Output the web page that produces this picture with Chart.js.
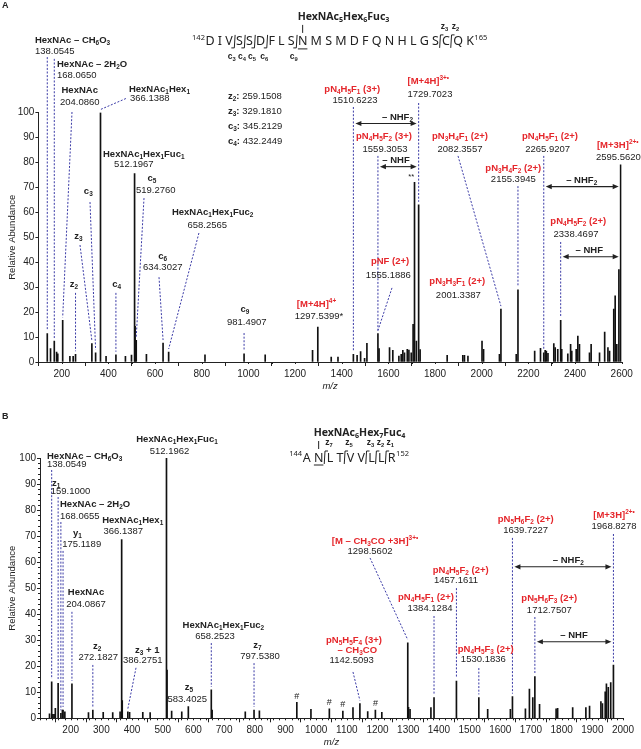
<!DOCTYPE html>
<html>
<head>
<meta charset="utf-8">
<script src="https://cdn.jsdelivr.net/npm/chart.js@4.4.1/dist/chart.umd.min.js"></script>
<style>
  body { margin: 0; background: #fff; }
  #wrap { position: relative; width: 641px; height: 749px; }
  canvas { position: absolute; left: 0; }
</style>
</head>
<body>
<div id="wrap">
  <canvas id="chartA" width="641" height="395" style="top:0;width:641px;height:395px"></canvas>
  <canvas id="chartB" width="641" height="354" style="top:395px;width:641px;height:354px"></canvas>
</div>
<script>
// ---- data: panel A (m/z, relative abundance) ----
const mzA = [138.05,152,168.07,178,183,204.09,235,249,259.15,329.18,345.21,366.14,390,432.24,473,499,512.20,514.5,519.28,563,634.30,658.26,814,981.49,1072,1275,1297.54,1355,1384,1450,1466,1481,1498,1508,1555.19,1560,1605,1619,1645,1655,1662,1669,1681,1688,1698,1706,1712,1720,1729.70,1736,1852,1919,1926,1941,2001.34,2008,2076,2082.36,2148,2155.39,2227,2252,2265.92,2272,2277,2284,2309,2315,2326,2338.47,2343,2369,2381,2386,2405,2412,2419,2462,2469,2505,2527,2541,2548,2566,2572,2579,2588,2595.56];
const intA = [11.4,5.4,8.4,4,3.3,16.7,2.3,2.3,3.1,7.4,3.7,100,2.3,2.9,2.3,2.8,75.5,14.3,8.7,3.1,7.6,4,2.9,3.3,2.9,4.7,14,2,2,3.1,2.7,4.2,1.5,7.5,11.4,5.4,5.8,4.7,2.4,3.1,4.7,3.7,5.1,4.8,3.7,15.1,72,8.4,63,5,2.7,2.7,2.7,2.4,8.4,5.1,3.1,21.2,3.1,28.9,4.4,5.5,3.7,4.7,4.4,3.5,7.4,5.8,5.1,16.7,5.1,3.3,7.1,4.4,5.1,10.4,7.1,3.7,7.1,3.7,12,5.8,4.4,21.2,26.5,7.1,37,79];

// ---- data: panel B ----
const mzB = [131,138.05,142,146,150,159.10,168.07,173,175.12,181,204.09,258,272.18,306,337,361,366.14,368,386.28,392,435,459,512.20,514,529,562,583.40,658.25,661,769,797.54,815,937,983,1043,1087,1120,1142.51,1168,1193,1214,1298.56,1301,1306,1374,1384.13,1457.16,1530.18,1559,1633,1639.72,1682,1695,1706,1712.75,1728,1782,1787,1836,1879,1891,1928,1933,1942,1946,1952,1960,1968.83];
const intB = [1.7,14,1.5,1.5,3.8,13.4,1.9,3.2,3.2,2.5,13.2,2.2,3.2,2.3,2.2,2.5,68.7,6.8,2.5,2.3,2.3,2.2,100,18.5,2.8,2.5,4.5,10.9,3.2,2.5,3.2,2.9,6.1,3.4,3.6,2.8,4.1,5.7,2.6,3.2,2.3,29,4.2,3.4,4.1,8,14.3,8,3.4,3.4,8.3,3.6,11.2,8,16,5.4,3.6,3.8,4.1,4.1,4.7,6.4,5.7,10.2,13.2,11.9,13.7,20.4];
const hashB = [937, 1043, 1087, 1193];

// ---- tick labels ----
const ticksAx = [200,400,600,800,1000,1200,1400,1600,1800,2000,2200,2400,2600];
const ticksBx = [200,300,400,500,600,700,800,900,1000,1100,1200,1300,1400,1500,1600,1700,1800,1900,2000];
const ticksY = [0,10,20,30,40,50,60,70,80,90,100];

const FONT = '"Liberation Sans", Arial, sans-serif';
const SEQFONT = '"Noto Sans", sans-serif';
const RED = '#e5262b';
const BLUE = '#3a3aa6';
const INK = '#222';

Chart.defaults.font.family = FONT;

const nm = (t, dx) => ({ parts: [{ t, b: true }], dx });
const nu = (t, dx) => ({ parts: [{ t, b: false }], dx });
const rd = (t, dx) => ({ parts: [{ t, b: true, c: RED }], dx });
const mx = (a, b) => ({ parts: [{ t: a, b: true }, { t: b, b: false }] });

// annotation layout (x in m/z, y in % abundance)
const labelsA = [
  { x: 85, y: 129.1, al: 'left', lines: [nm('HexNAc – CH_{6}O_{3}'), nu('138.0545')], lead: { at: 138.05, from: [null, 122.2] } },
  { x: 179.7, y: 119.3, al: 'left', lines: [nm('HexNAc – 2H_{2}O'), nu('168.0650')], lead: { at: 168.07, from: [null, 121.5] } },
  { x: 199, y: 109, al: 'left', lh: 12.7, lines: [nm('HexNAc'), nu('204.0860', -1.5)], lead: { at: 204.09, from: [244, 100.2] } },
  { x: 488, y: 109.3, al: 'left', lh: 9.5, lines: [nm('HexNAc_{1}Hex_{1}'), nu('366.1388', 1)], lead: { at: 366.14, from: [475, 105.6] } },
  { x: 912.6, y: 106.6, al: 'left', lh: 15, lines: [mx('z_{2}:', ' 259.1508'), mx('z_{3}:', ' 329.1810'), mx('c_{3}:', ' 345.2129'), mx('c_{4}:', ' 432.2449')] },
  { x: 376.9, y: 83.4, al: 'left', lh: 10.5, lines: [nm('HexNAc_{1}Hex_{1}Fuc_{1}'), nu('512.1967', 11)] },
  { x: 586.9, y: 73.6, lh: 11.7, lines: [nm('c_{5}'), nu('519.2760', 3.7)], lead: { at: 519.28, from: [552.6, 65.7] } },
  { x: 313.9, y: 68.3, lines: [nm('c_{3}')], lead: { at: 345.21, from: [321.2, 64.1] } },
  { x: 271, y: 50.2, lines: [nm('z_{3}')], lead: { at: 329.18, from: [278.3, 46.9] } },
  { x: 252.6, y: 31.3, lines: [nm('z_{2}')], lead: { at: 259.15, from: [null, 27.7] } },
  { x: 435.6, y: 31.3, lines: [nm('c_{4}')], lead: { at: 432.24, from: [null, 27.7] } },
  { x: 847, y: 59.8, lh: 12.3, lines: [nm('HexNAc_{1}Hex_{1}Fuc_{2}'), nu('658.2565', -5.4)], lead: { at: 658.26, from: [788, 51.7] } },
  { x: 632.7, y: 42.5, lh: 11.3, lines: [nm('c_{6}'), nu('634.3027')], lead: { at: 634.30, from: [616.9, 34] } },
  { x: 985.5, y: 21.2, lh: 13.3, lines: [nm('c_{9}'), nu('981.4907', 1.7)], lead: { at: 981.49, from: [null, 11.6] } },
  { x: 1292, y: 22.9, lh: 11.7, lines: [rd('[M+4H]^{4+}'), nu('1297.5399*', 2.5)] },
  { x: 1445.4, y: 109.3, lh: 10.7, lines: [rd('pN_{4}H_{5}F_{1} (3+)'), nu('1510.6223', 2.7)], lead: { at: 1450, from: [null, 102.2] } },
  { x: 1771, y: 112.3, lh: 12.6, lines: [rd('[M+4H]^{3+•}'), nu('1729.7023', 1.7)], lead: { at: 1729.70, from: [null, 103.8] } },
  { x: 1581.2, y: 90.3, lh: 12.3, lines: [rd('pN_{4}H_{5}F_{2} (3+)'), nu('1559.3053', 1)], lead: { at: 1555.19, from: [null, 82.6] } },
  { x: 1907, y: 90.3, lh: 12.3, lines: [rd('pN_{3}H_{4}F_{1} (2+)'), nu('2082.3557')], lead: { at: 2082.36, from: [1898.4, 82.6] } },
  { x: 2292.6, y: 90.3, lh: 12.3, lines: [rd('pN_{4}H_{5}F_{1} (2+)'), nu('2265.9207', -2.3)], lead: { at: 2265.92, from: [null, 82.6] } },
  { x: 2135.4, y: 77.6, lh: 11, lines: [rd('pN_{3}H_{4}F_{2} (2+)'), nu('2155.3945')], lead: { at: 2155.39, from: [null, 70.5] } },
  { x: 2583, y: 86.7, lh: 11.6, lines: [rd('[M+3H]^{2+•}'), nu('2595.5620', 0.6)] },
  { x: 2414, y: 56.2, lh: 12.6, lines: [rd('pN_{4}H_{5}F_{2} (2+)'), nu('2338.4697', -2.3)], lead: { at: 2338.47, from: [null, 48.1] } },
  { x: 1607, y: 40.2, lh: 13.3, lines: [rd('pNF (2+)'), nu('1555.1886', -1.7)], lead: { at: 1555.19, from: [1615.5, 29.7] } },
  { x: 1895.4, y: 32.2, lh: 13.3, lines: [rd('pN_{3}H_{3}F_{1} (2+)'), nu('2001.3387', 1)] },
  { x: 1698, y: 74, size: 7.5, lines: [nu('**')] }
];

const labelsB = [
  { x: 546.5, y: 107, lh: 11.7, lines: [nm('HexNAc_{1}Hex_{1}Fuc_{1}'), nu('512.1962', -7.5)] },
  { x: 122.8, y: 100.8, al: 'left', lh: 8.3, lines: [nm('HexNAc – CH_{6}O_{3}'), nu('138.0549')], lead: { at: 138.05, from: [null, 95.4] } },
  { x: 139.1, y: 90.3, al: 'left', lh: 8.4, lines: [nm('z_{1}'), nu('159.1000', -1.3)], lead: { at: 159.10, from: [null, 85] } },
  { x: 165.2, y: 82.2, al: 'left', lh: 12.4, lines: [nm('HexNAc – 2H_{2}O'), nu('168.0655')], lead: { at: 168.07, from: [null, 75.4] } },
  { x: 221.6, y: 71.1, lh: 10.7, lines: [nm('y_{1}'), nu('175.1189', 4.4)], lead: { at: 175.12, from: [null, 64.3] } },
  { x: 402.1, y: 75.9, lh: 10.3, lines: [nm('HexNAc_{1}Hex_{1}'), nu('366.1387', -9.4)] },
  { x: 249.9, y: 48.3, lh: 11.6, lines: [nm('HexNAc'), nu('204.0867')], lead: { at: 204.09, from: [null, 40.9] } },
  { x: 286.7, y: 27.8, lh: 11.3, lines: [nm('z_{2}'), nu('272.1827', 1)], lead: { at: 272.18, from: [null, 20.5] } },
  { x: 449.7, y: 26.2, lh: 10, lines: [nm('z_{3} + 1'), nu('386.2751', -4.6)], lead: { at: 386.28, from: [412.9, 19.4] } },
  { x: 697.4, y: 35.8, lh: 11.7, lines: [nm('HexNAc_{1}Hex_{1}Fuc_{2}'), nu('658.2523', -8.3)], lead: { at: 658.25, from: [null, 28.9] } },
  { x: 585.6, y: 11.8, lh: 11.6, lines: [nm('z_{5}'), nu('583.4025', -1.7)] },
  { x: 808.2, y: 28.2, lh: 11.7, lines: [nm('z_{7}'), nu('797.5380', 2.7)], lead: { at: 797.54, from: [null, 21.2] } },
  { x: 1191.8, y: 67.8, lh: 10, lines: [rd('[M – CH_{3}CO +3H]^{3+•}'), nu('1298.5602', -5)], lead: { at: 1298.56, from: [1175.5, 61.6] } },
  { x: 1682.9, y: 76.6, lh: 11.7, lines: [rd('pN_{5}H_{6}F_{2} (2+)'), nu('1639.7227')], lead: { at: 1639.72, from: [null, 69.3] } },
  { x: 1970.7, y: 77.8, lh: 11, lines: [rd('[M+3H]^{2+•}'), nu('1968.8278')], lead: { at: 1968.83, from: [null, 70.8] } },
  { x: 1471, y: 57, lh: 10.7, lines: [rd('pN_{4}H_{5}F_{2} (2+)'), nu('1457.1611', -4.7)], lead: { at: 1457.16, from: [null, 50] } },
  { x: 1358, y: 46.5, lh: 11, lines: [rd('pN_{4}H_{5}F_{1} (2+)'), nu('1384.1284', 4)], lead: { at: 1384.13, from: [null, 39.3] } },
  { x: 1759.8, y: 46.1, lh: 11.7, lines: [rd('pN_{5}H_{6}F_{3} (2+)'), nu('1712.7507')], lead: { at: 1712.75, from: [null, 38.9] } },
  { x: 1123.3, y: 30.1, lh: 10.3, lines: [rd('pN_{5}H_{5}F_{4} (3+)'), rd('– CH_{3}CO', 3.3), nu('1142.5093', -2.3)], lead: { at: 1142.51, from: [1120, 17.8] } },
  { x: 1552.6, y: 26.5, lh: 10, lines: [rd('pN_{4}H_{5}F_{3} (2+)'), nu('1530.1836', -2.4)], lead: { at: 1530.18, from: [null, 19.3] } }
];

const arrowsA = [
  { from: 1450, to: 1729.70, y: 95.6, t: '– NHF_{2}', tx: 1639 },
  { from: 1555.19, to: 1729.70, y: 78.3, t: '– NHF', tx: 1632.7 },
  { from: 2265.92, to: 2595.56, y: 70.3, t: '– NHF_{2}', tx: 2428.6 },
  { from: 2338.47, to: 2595.56, y: 42.2, t: '– NHF', tx: 2461 }
];
const arrowsB = [
  { from: 1639.72, to: 1968.83, y: 58.2, t: '– NHF_{2}', tx: 1821.7 },
  { from: 1712.75, to: 1968.83, y: 29.4, t: '– NHF', tx: 1840.3 }
];

const seqA = { res: 'DIVSSDFLSNMSMDFQNHLGSCQK', first: '142', last: '165', from: 835.5, to: 1949.8, y: 128.3, site: 9,
  glycan: 'HexNAc_{5}Hex_{6}Fuc_{3}',
  cuts: [{ i: 2, k: 'c', t: 'c_{3}' }, { i: 3, k: 'c', t: 'c_{4}' }, { i: 4, k: 'c', t: 'c_{5}' }, { i: 5, k: 'c', t: 'c_{6}' },
         { i: 8, k: 'c', t: 'c_{9}' }, { i: 20, k: 'z', t: 'z_{3}' }, { i: 21, k: 'z', t: 'z_{2}' }] };
const seqB = { res: 'ANLTVVLLR', first: '144', last: '152', from: 969, to: 1246.2, y: 100, site: 1,
  glycan: 'HexNAc_{6}Hex_{7}Fuc_{4}',
  cuts: [{ i: 1, k: 'z', t: 'z_{7}' }, { i: 3, k: 'z', t: 'z_{5}' }, { i: 5, k: 'z', t: 'z_{3}' }, { i: 6, k: 'z', t: 'z_{2}' }, { i: 7, k: 'z', t: 'z_{1}' }] };

// split "abc_{1}^{2+}" into normal / sub / sup pieces
function segs(str) {
  const out = [];
  const re = /([_^])\{([^}]*)\}/g;
  let last = 0, m;
  while ((m = re.exec(str))) {
    if (m.index > last) out.push({ t: str.slice(last, m.index), k: '' });
    out.push({ t: m[2], k: m[1] });
    last = re.lastIndex;
  }
  if (last < str.length) out.push({ t: str.slice(last), k: '' });
  return out;
}

function drawLine(ctx, parts, x, y, align, size, family) {
  const pieces = [];
  parts.forEach(p => segs(p.t).forEach(s => {
    const sz = s.k ? size * 0.68 : size;
    pieces.push({
      t: s.t,
      font: (p.b ? 'bold ' : '') + sz + 'px ' + (family || FONT),
      c: p.c || INK,
      dy: s.k === '_' ? size * 0.3 : s.k === '^' ? -size * 0.38 : 0
    });
  }));
  let w = 0;
  pieces.forEach(q => { ctx.font = q.font; q.w = ctx.measureText(q.t).width; w += q.w; });
  let cx = align === 'center' ? x - w / 2 : align === 'right' ? x - w : x;
  ctx.textBaseline = 'middle';
  ctx.textAlign = 'left';
  pieces.forEach(q => {
    ctx.font = q.font;
    ctx.fillStyle = q.c;
    ctx.fillText(q.t, cx, y + q.dy);
    cx += q.w;
  });
}

function seg(ctx, x0, y0, x1, y1) {
  ctx.beginPath();
  ctx.moveTo(x0, y0);
  ctx.lineTo(x1, y1);
  ctx.stroke();
}

function drawSeq(ctx, s, px, py) {
  const y = py(s.y), x0 = px(s.from), x1 = px(s.to);
  const n = s.res.length;
  ctx.font = '12.5px ' + SEQFONT;
  const w = [...s.res].map(r => ctx.measureText(r).width);
  let sum = 0;
  for (let i = 0; i < n - 1; i++) sum += (w[i] + w[i + 1]) / 2;
  const g = (x1 - x0 - sum) / (n - 1);
  const c = [x0];
  for (let i = 0; i < n - 1; i++) c.push(c[i] + (w[i] + w[i + 1]) / 2 + g);

  ctx.fillStyle = INK;
  ctx.textBaseline = 'middle';
  ctx.textAlign = 'center';
  [...s.res].forEach((r, i) => ctx.fillText(r, c[i], y));
  ctx.font = '7.5px ' + SEQFONT;
  ctx.textAlign = 'right';
  ctx.fillText(s.first, c[0] - w[0] / 2 - 0.5, y - 4);
  ctx.textAlign = 'left';
  ctx.fillText(s.last, c[n - 1] + w[n - 1] / 2 + 0.5, y - 4);

  ctx.strokeStyle = INK;
  ctx.lineWidth = 1;
  const cs = c[s.site];
  seg(ctx, cs - w[s.site] / 2, y + 7, cs + w[s.site] / 2, y + 7);
  seg(ctx, cs, y - 9, cs, y - 17);
  drawLine(ctx, [{ t: s.glycan, b: true }], cs - 5, y - 25, 'left', 10.5, SEQFONT);

  s.cuts.forEach(k => {
    const xm = ((c[k.i] + w[k.i] / 2) + (c[k.i + 1] - w[k.i + 1] / 2)) / 2;
    if (k.k === 'c') {
      seg(ctx, xm + 0.8, y - 7, xm, y + 6);
      seg(ctx, xm, y + 6, xm - 3, y + 6);
      drawLine(ctx, [{ t: k.t, b: true }], xm - 2.5, y + 15, 'center', 8.5);
    } else {
      seg(ctx, xm - 0.8, y + 6, xm, y - 7);
      seg(ctx, xm, y - 7, xm + 3, y - 7);
      drawLine(ctx, [{ t: k.t, b: true }], xm + 4, y - 15, 'center', 8.5);
    }
  });
}

function arrowHead(ctx, x, y, dir) {
  ctx.beginPath();
  ctx.moveTo(x, y);
  ctx.lineTo(x - dir * 6, y - 2.6);
  ctx.lineTo(x - dir * 6, y + 2.6);
  ctx.closePath();
  ctx.fill();
}

function annotPlugin(cfg) {
  return {
    id: 'annot',
    afterDraw(chart) {
      const ctx = chart.ctx, X = chart.scales.x, Y = chart.scales.y, area = chart.chartArea;
      const px = v => X.getPixelForValue(v);
      const py = v => Y.getPixelForValue(v);
      const peak = m => {
        let b = 0;
        cfg.mz.forEach((v, i) => { if (Math.abs(v - m) < Math.abs(cfg.mz[b] - m)) b = i; });
        return { x: cfg.mz[b], y: cfg.ints[b] };
      };
      ctx.save();

      // minor ticks
      ctx.strokeStyle = INK;
      ctx.lineWidth = 1;
      if (cfg.minorX) {
        for (let v = X.min; v <= X.max; v += cfg.minorX) {
          const x = Math.round(px(v)) + 0.5;
          seg(ctx, x, area.bottom, x, area.bottom + 2);
        }
      }
      if (cfg.minorY) {
        for (let v = 0; v <= 100; v += cfg.minorY) {
          const y = Math.round(py(v)) + 0.5;
          seg(ctx, area.left - 2, y, area.left, y);
        }
      }

      // leader lines
      ctx.strokeStyle = BLUE;
      ctx.setLineDash([2, 1.6]);
      cfg.labels.forEach(a => {
        if (!a.lead) return;
        const p = peak(a.lead.at);
        const xs = a.lead.from[0] == null ? px(p.x) : px(a.lead.from[0]);
        seg(ctx, xs, py(a.lead.from[1]), px(p.x), py(p.y) - 3);
      });
      ctx.setLineDash([]);

      // labels
      cfg.labels.forEach(a => {
        const lh = a.lh || cfg.lh;
        a.lines.forEach((ln, i) => {
          drawLine(ctx, ln.parts, px(a.x) + (ln.dx || 0), py(a.y) + i * lh, a.al || 'center', a.size || 9.5);
        });
      });

      // hash marks over peaks
      (cfg.hash || []).forEach(m => {
        const p = peak(m);
        drawLine(ctx, [{ t: '#', b: false }], px(p.x), py(p.y) - 6, 'center', 9);
      });

      // neutral-loss arrows
      ctx.strokeStyle = INK;
      ctx.fillStyle = INK;
      ctx.lineWidth = 1.1;
      cfg.arrows.forEach(a => {
        const xa = px(a.from) + 2, xb = px(a.to) - 2, y = py(a.y);
        seg(ctx, xa + 4, y, xb - 4, y);
        ctx.fillStyle = INK;
        arrowHead(ctx, xb, y, 1);
        arrowHead(ctx, xa, y, -1);
        drawLine(ctx, [{ t: a.t, b: true }], px(a.tx), y - 6, 'center', 9.5);
      });
      ctx.lineWidth = 1;

      drawSeq(ctx, cfg.seq, px, py);

      // axis titles and panel letter
      ctx.fillStyle = INK;
      ctx.font = '9.5px ' + FONT;
      ctx.textAlign = 'center';
      ctx.textBaseline = 'middle';
      ctx.save();
      ctx.translate(12, (area.top + area.bottom) / 2);
      ctx.rotate(-Math.PI / 2);
      ctx.fillText('Relative Abundance', 0, 0);
      ctx.restore();
      ctx.font = 'italic 9.5px ' + FONT;
      ctx.fillText('m/z', (area.left + area.right) / 2, area.bottom + 24.5);
      ctx.font = 'bold 9px ' + FONT;
      ctx.textAlign = 'left';
      ctx.fillText(cfg.letter, 2, cfg.letterY);
      ctx.restore();
    }
  };
}

function makeChart(id, mz, ints, o) {
  return new Chart(document.getElementById(id), {
    type: 'bar',
    data: {
      datasets: [{
        data: mz.map((m, i) => ({ x: m, y: ints[i] })),
        backgroundColor: '#111',
        barThickness: 1,
        borderWidth: 0
      }]
    },
    options: {
      responsive: false,
      animation: false,
      devicePixelRatio: 1,
      layout: { padding: { top: o.top, right: o.right, left: 0, bottom: 0 } },
      plugins: { legend: { display: false }, tooltip: { enabled: false } },
      scales: {
        x: {
          type: 'linear', min: 100, max: o.xmax, offset: false,
          grid: { drawOnChartArea: false, drawTicks: true, tickLength: 4, color: INK },
          border: { color: INK, width: 1 },
          ticks: { font: { size: 10 }, color: INK, padding: 2, maxRotation: 0, autoSkip: false, callback: v => String(v) },
          afterBuildTicks: s => { s.ticks = o.xticks.map(v => ({ value: v })); },
          afterFit: s => { s.height = o.xh; }
        },
        y: {
          min: 0, max: 100,
          grid: { drawOnChartArea: false, drawTicks: true, tickLength: 3, color: INK },
          border: { color: INK, width: 1 },
          ticks: { font: { size: 10 }, color: INK, padding: 1, callback: v => String(v) },
          afterBuildTicks: s => { s.ticks = ticksY.map(v => ({ value: v })); },
          afterFit: s => { s.width = o.yw; }
        }
      }
    },
    plugins: [annotPlugin(o.annot)]
  });
}

makeChart('chartA', mzA, intA, {
  top: 112.5, right: 19.3, xh: 33, yw: 38.4, xmax: 2600, xticks: ticksAx,
  annot: { mz: mzA, ints: intA, labels: labelsA, arrows: arrowsA, seq: seqA, lh: 11.5, minorX: 100, letter: 'A', letterY: 6 }
});
makeChart('chartB', mzB, intB, {
  top: 63, right: 18, xh: 30.7, yw: 40, xmax: 2000, xticks: ticksBx,
  annot: { mz: mzB, ints: intB, labels: labelsB, arrows: arrowsB, seq: seqB, lh: 10.5, minorX: 20, minorY: 2, hash: hashB, letter: 'B', letterY: 22 }
});
</script>
</body>
</html>
